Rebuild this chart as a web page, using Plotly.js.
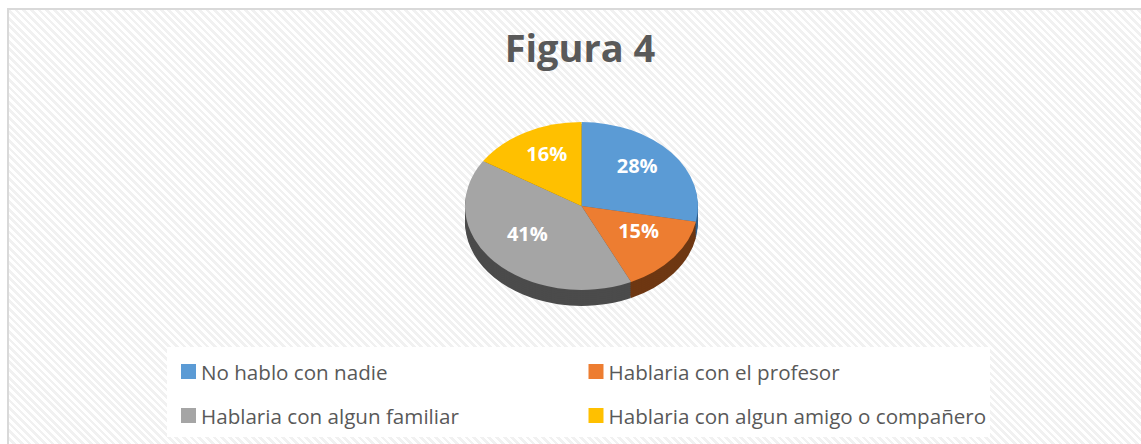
<!DOCTYPE html>
<html>
<head>
<meta charset="utf-8">
<script src="https://cdn.plot.ly/plotly-3.0.1.min.js"></script>
<style>
  html, body { margin: 0; padding: 0; background: #ffffff; overflow: hidden; }
  #frame {
    position: absolute; left: 7px; top: 8px; width: 1134px; height: 436px;
    border-left: 2px solid #d9d9d9; border-top: 2px solid #d9d9d9; box-sizing: border-box;
    background: repeating-linear-gradient(45deg, #ffffff 0px, #ffffff 2.7px, #f1f1f1 2.7px, #f1f1f1 5.4px);
  }
  #chart { position: absolute; left: 0; top: 0; width: 1141px; height: 444px; }
</style>
</head>
<body>
<div id="frame"></div>
<div id="chart"></div>
<script>
// ---- data ----
const categories = ["No hablo con nadie", "Hablaria con el profesor", "Hablaria con algun familiar", "Hablaria con algun amigo o compañero"];
const values = [28, 15, 41, 16];
const topColors = ["#5b9bd5", "#ed7d31", "#a5a5a5", "#ffc000"];
const sideColors = ["#2f5f8c", "#6e3712", "#4b4b4b", "#8a6a00"];
const titleText = "Figura 4";

// ---- geometry / style ----
const W = 1141, H = 444;
const CX = 581.5, CY = 206, R = 116.5, K = 0.72;   // pie centre, radius, vertical squash
const DEPTH = 16;
const LABEL_FRAC = 0.62, LABEL_LIFT = 7;

function domainFor(shift) {
  const cyPaper = H - (CY + shift);
  return { x: [(CX - R) / W, (CX + R) / W], y: [(cyPaper - R) / H, (cyPaper + R) / H] };
}

const traces = [];
for (let d = DEPTH; d >= 2; d -= 2) {
  traces.push({
    type: "pie", labels: categories, values: values, sort: false,
    direction: "clockwise", rotation: 0, domain: domainFor(d),
    marker: { colors: sideColors, line: { width: 0 } },
    textinfo: "none", showlegend: false, hoverinfo: "skip"
  });
}
traces.push({
  type: "pie", labels: categories, values: values, sort: false,
  direction: "clockwise", rotation: 0, domain: domainFor(0),
  marker: { colors: topColors, line: { width: 0 } },
  texttemplate: "%{percent:.0%}", textposition: "inside",
  insidetextorientation: "horizontal",
  textfont: { family: "Open Sans", size: 20, color: "#ffffff", weight: "bold" },
  hoverinfo: "skip"
});

const layout = {
  width: W, height: H,
  margin: { l: 0, r: 0, t: 0, b: 0 },
  paper_bgcolor: "rgba(0,0,0,0)", plot_bgcolor: "rgba(0,0,0,0)",
  title: {
    text: titleText, x: 580 / W, xanchor: "center", xref: "paper",
    y: 1 - 49 / H, yref: "container", yanchor: "middle",
    font: { family: "Open Sans", size: 38, color: "#595959", weight: "bold" }
  },
  showlegend: true,
  legend: {
    orientation: "h", x: 167 / W, xanchor: "left", y: 1 - 347 / H, yanchor: "top",
    bgcolor: "#ffffff", borderwidth: 0, entrywidth: 370,
    font: { family: "Open Sans", size: 20.6, color: "#595959" }
  }
};

const gd = document.getElementById("chart");
Plotly.newPlot(gd, traces, layout, { staticPlot: true, displayModeBar: false }).then(() => {
  // squash pies into ellipses (3D look)
  const tNodes = gd.querySelectorAll(".pielayer .trace");
  tNodes.forEach((tn, i) => {
    const cd0 = gd.calcdata[i][0];
    const cx = cd0.cx, cy = cd0.cy;
    tn.querySelectorAll("path.surface").forEach(p => {
      p.setAttribute("transform", `matrix(1,0,0,${K},0,${cy * (1 - K)})`);
    });
    tn.querySelectorAll(".slice").forEach(sl => {
      const pt = sl.__data__;
      const st = sl.querySelector(".slicetext");
      if (!st || !pt || !pt.pxmid) return;
      const r = st.getBoundingClientRect();
      const x0 = (r.left + r.right) / 2, y0 = (r.top + r.bottom) / 2;
      const tx = cx + LABEL_FRAC * pt.pxmid[0];
      const ty = cy - LABEL_LIFT + LABEL_FRAC * K * pt.pxmid[1];
      const old = st.getAttribute("transform") || "";
      st.setAttribute("transform", `translate(${tx - x0},${ty - y0}) ` + old);
    });
  });

  // legend layout
  const lg = gd.querySelector(".legend");
  if (lg) {
    const sb = lg.querySelector(".scrollbox");
    if (sb) sb.removeAttribute("clip-path");
    const bg = lg.querySelector("rect.bg");
    bg.setAttribute("width", 823);
    bg.setAttribute("height", 90);
    const br = bg.getBoundingClientRect();
    lg.setAttribute("transform", `translate(${167 - br.left},${347 - br.top}) ` + (lg.getAttribute("transform") || ""));
    const colX = [188.5, 596];
    const rowY = [371.5, 415.5];
    lg.querySelectorAll(".traces").forEach((it, i) => {
      const sym = it.querySelector(".legendpoints path") || it.querySelector("path");
      if (sym) sym.setAttribute("d", "M7.5,7.5H-7.5V-7.5H7.5Z");
      let sr = sym.getBoundingClientRect();
      const dx = colX[i % 2] - (sr.left + sr.right) / 2;
      const dy = rowY[Math.floor(i / 2)] - (sr.top + sr.bottom) / 2;
      it.setAttribute("transform", `translate(${dx},${dy}) ` + (it.getAttribute("transform") || ""));
      sr = sym.getBoundingClientRect();
      const t = it.querySelector(".legendtext");
      const tr = t.getBoundingClientRect();
      const shift = (sr.right + 5) - tr.left;
      t.setAttribute("x", parseFloat(t.getAttribute("x") || 0) + shift);
    });
  }
});
</script>
</body>
</html>
